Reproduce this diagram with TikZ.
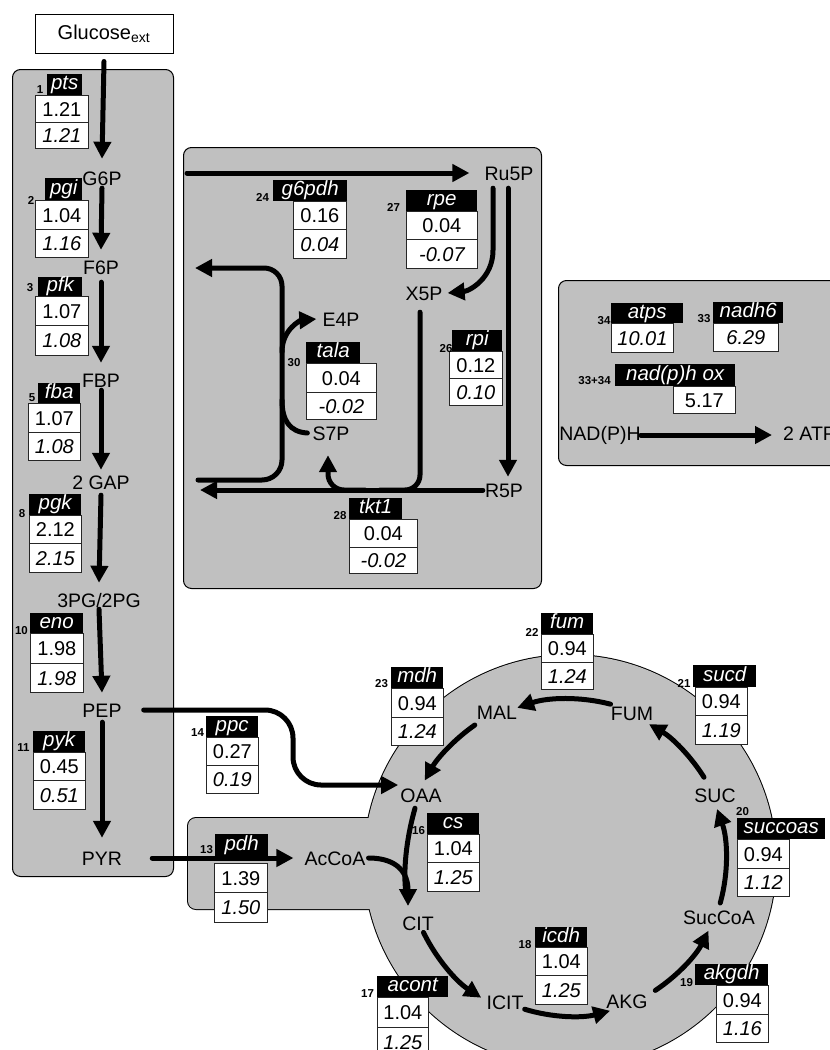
\documentclass[tikz,border=0pt]{standalone}
\usepackage{fontspec}
\setmainfont{Liberation Sans}
\usetikzlibrary{arrows.meta}
\definecolor{regiongray}{RGB}{192,192,192}
\tikzset{
  region/.style={draw=black, line width=1pt, fill=regiongray, rounded corners=8pt, anchor=north west, inner sep=0pt},
  met/.style={font=\fontsize{19.5}{22}\selectfont, inner sep=0pt, text height=14pt, text depth=0pt},
  enzlab/.style={fill=black, text=white, font=\fontsize{20.5}{22}\selectfont\itshape, inner sep=0pt, anchor=north west, text height=14.5pt, text depth=4pt},
  valbox/.style={draw=black!85, line width=0.8pt, fill=white, font=\fontsize{20}{22}\selectfont, inner sep=0pt, anchor=north west, text height=14.5pt, text depth=0pt},
  ivalbox/.style={valbox, font=\fontsize{20}{22}\selectfont\itshape},
  enznum/.style={font=\fontsize{11.5}{12}\selectfont\bfseries, inner sep=0pt, anchor=base},
  flux/.style={line width=5pt, line cap=round, -{Triangle[length=17pt,width=17pt]}},
  fline/.style={line width=5pt, line cap=round}
}
\newcommand\enzlabel[6]{\pgfmathsetmacro\enzW{#3-#2}\pgfmathsetmacro\enzH{#5-#4}%
  \node[enzlab, minimum width=\enzW pt, minimum height=\enzH pt] (#1-l) at (#2,#4) {#6};}
\newcommand\enzval[7]{\pgfmathsetmacro\enzW{#4-#3}\pgfmathsetmacro\enzH{#6-#5}%
  \node[#2, minimum width=\enzW pt, minimum height=\enzH pt] (#1) at (#3,#5) {#7};}
\newcommand\enznum[4]{\node[enznum] (#1-n) at (#2,#3) {#4};}
\newcommand\enzyme[9]{%
  \enzlabel{#1}{#2}{#3}{#4}{#5}{\enzname}%
  \enzval{#1-v1}{valbox}{#6}{#7}{#5}{#8}{\enzA}%
  \enzval{#1-v2}{ivalbox}{#6}{#7}{#8}{#9}{\enzB}}
\newcommand\enztexts[3]{\def\enzname{#1}\def\enzA{#2}\def\enzB{#3}}
\begin{document}
\begin{tikzpicture}[x=1pt,y=-1pt]
\useasboundingbox (0,0) rectangle (830,1050);
\clip (0,0) rectangle (830,1050);
\fill[white] (0,0) rectangle (830,1050);

% ---------- regions
\node[region, minimum width=161pt, minimum height=807pt] (glybox) at (12,69) {};
\node[region, minimum width=358pt, minimum height=441pt] (pppbox) at (183,147) {};
\node[region, minimum width=300pt, minimum height=185pt] (atpbox) at (558,280) {};
\coordinate (tca) at (570,861);
\draw[line width=2pt] (tca) circle[radius=206];
\draw[line width=2pt, rounded corners=8pt] (188,818) rectangle (450,909);
\fill[regiongray] (tca) circle[radius=206];
\fill[regiongray, rounded corners=8pt] (188,818) rectangle (450,909);

% ---------- metabolites
\node[draw, line width=1pt, fill=white, minimum width=138pt, minimum height=39pt, inner sep=0pt,
      font=\fontsize{20}{22}\selectfont] (glc) at (104,33.5) {Glucose\textsubscript{ext}};
\node[met] (g6p) at (102,178) {G6P};
\node[met] (f6p) at (101,267) {F6P};
\node[met] (fbp) at (101,380) {FBP};
\node[met] (gap) at (101,482) {2 GAP};
\node[met] (pg) at (99,600) {3PG/2PG};
\node[met] (pep) at (102,710) {PEP};
\node[met] (pyr) at (102,858) {PYR};
\node[met] (ru5p) at (509,173) {Ru5P};
\node[met] (x5p) at (424,293) {X5P};
\node[met] (e4p) at (341,319) {E4P};
\node[met] (s7p) at (331,433) {S7P};
\node[met] (r5p) at (504,490) {R5P};
\node[met] (accoa) at (335,858) {AcCoA};
\node[met] (oaa) at (421,795) {OAA};
\node[met] (mal) at (497,712) {MAL};
\node[met] (fum) at (632,713) {FUM};
\node[met] (suc) at (715,795) {SUC};
\node[met] (succoa) at (719,917) {SucCoA};
\node[met] (akg) at (627,1001) {AKG};
\node[met] (icit) at (505,1002) {ICIT};
\node[met] (cit) at (418,923) {CIT};
\node[met] (nadph) at (600,433) {NAD(P)H};
\node[met, anchor=west] (atp) at (783,433) {2 ATP};

% ---------- glycolysis
\draw[flux] ([yshift=-8pt]glc.south) -- ([yshift=12pt]g6p.north);
\draw[flux] ([yshift=-3pt]g6p.south) -- ([yshift=10pt]f6p.north);
\draw[flux] ([yshift=-8pt]f6p.south) -- ([yshift=10pt]fbp.north);
\draw[flux] ([yshift=-3pt]fbp.south) -- ([yshift=5pt]gap.north);
\draw[flux] ([yshift=-6pt]gap.south) -- ([yshift=10pt]pg.north);
\draw[flux] ([yshift=-2pt]pg.south) -- ([yshift=10pt]pep.north);
\draw[flux] ([yshift=-5pt]pep.south) -- ([yshift=13pt]pyr.north);

% ---------- pentose phosphate pathway
\coordinate (pppin) at (187,173);
\coordinate (f6pout) at (195,268);
\coordinate (gapin) at (198,480);
\coordinate (gapout) at (200,490);
\coordinate (talaj) at (282,400);
\coordinate (e4pj) at (282,352);
\draw[flux] (pppin) -- ([xshift=-15pt]ru5p.west);
\draw[flux] ([xshift=-16pt,yshift=-8pt]ru5p.south) -- ++(0,62)
   .. controls +(0,28) and +(22,-2) .. ([xshift=5pt]x5p.east);
\draw[flux] ([xshift=-1pt,yshift=-8pt]ru5p.south) -- ([xshift=4pt,yshift=6pt]r5p.north);
\draw[fline, rounded corners=15pt] ([xshift=-4pt,yshift=-12pt]x5p.south) |- (380,490);
\draw[flux] ([xshift=-2pt]r5p.west) -- (gapout);
\draw[flux, rounded corners=16pt] (365,490) -| ([xshift=-3pt,yshift=-15pt]s7p.south);
\draw[fline, rounded corners=20pt] (gapin) -| (talaj);
\draw[flux] ([xshift=-5pt]s7p.west) .. controls +(-18,-1) and +(0,20) .. (talaj)
   [rounded corners=18pt] -- (282,268) -- (f6pout);
\draw[flux] (e4pj) .. controls +(0,-24) and +(-14,1) .. ([xshift=-6pt]e4p.west);

% ---------- anaplerosis / pdh
\draw[flux, rounded corners=28pt] ([xshift=22pt]pep.east) -| (293,785) -- ([xshift=-2pt,yshift=10pt]oaa.west);
\draw[flux] ([xshift=30pt]pyr.east) -- ([xshift=-11pt]accoa.west);

% ---------- TCA cycle
\coordinate (citin) at (408,906);
\draw[fline] ([xshift=-6pt,yshift=-6pt]oaa.south) .. controls (406,840) and (403,872) .. (406,893);
\draw[flux] ([xshift=3pt]accoa.east) .. controls +(30,0) and +(0,-32) .. (citin);
\draw[flux] ([shift={(154:163)}]tca) arc[start angle=154, end angle=123, radius=163];
\draw[flux] ([shift={(107:155)}]tca) arc[start angle=107, end angle=75, radius=155];
\draw[flux] ([shift={(56.6:155)}]tca) arc[start angle=56.6, end angle=26.7, radius=155];
\draw[flux] ([shift={(15.6:156)}]tca) arc[start angle=15.6, end angle=-19.5, radius=156];
\draw[flux] ([shift={(328:158)}]tca) arc[start angle=328, end angle=300, radius=158];
\draw[flux] ([shift={(284.5:162)}]tca) arc[start angle=284.5, end angle=251, radius=162];
\draw[flux] ([shift={(235:166)}]tca) arc[start angle=235, end angle=209, radius=166];

% ---------- NAD(P)H oxidation
\draw[flux] ([yshift=-2pt]nadph.east) -- ([xshift=-11pt,yshift=-2pt]atp.west);

% ---------- enzymes
\enztexts{pts}{1.21}{1.21}\enzyme{pts}{47}{82}{74}{95}{35}{88}{122}{148}
\enznum{pts}{40}{93}{1}
\enztexts{pgi}{1.04}{1.16}\enzyme{pgi}{45}{82}{178}{200}{35}{88}{229}{257}
\enznum{pgi}{31}{204}{2}
\enztexts{pfk}{1.07}{1.08}\enzyme{pfk}{38}{82}{277}{296}{35}{88}{325}{355}
\enznum{pfk}{30}{291}{3}
\enztexts{fba}{1.07}{1.08}\enzyme{fba}{38}{80}{383}{403}{28}{80}{432}{460}
\enznum{fba}{32}{401}{5}
\enztexts{pgk}{2.12}{2.15}\enzyme{pgk}{29}{81}{494}{515}{29}{81}{543}{572}
\enznum{pgk}{22}{517}{8}
\enztexts{eno}{1.98}{1.98}\enzyme{eno}{30}{83}{613}{633}{30}{83}{663}{692}
\enznum{eno}{21.5}{634}{10}
\enztexts{pyk}{0.45}{0.51}\enzyme{pyk}{33}{85}{731}{752}{33}{85}{780}{809}
\enznum{pyk}{23.5}{751}{11}
\enztexts{ppc}{0.27}{0.19}\enzyme{ppc}{206}{258}{716}{737}{206}{258}{765}{793}
\enznum{ppc}{197.5}{736}{14}
\enztexts{pdh}{1.39}{1.50}\enzlabel{pdh}{215}{268}{834}{856}{\enzname}
\enzval{pdh-v1}{valbox}{214}{267}{863}{892}{\enzA}
\enzval{pdh-v2}{ivalbox}{214}{267}{892}{922}{\enzB}
\enznum{pdh}{206.5}{853}{13}
\enztexts{cs}{1.04}{1.25}\enzyme{cs}{427}{479}{813}{834}{427}{479}{862}{891}
\enznum{cs}{418.5}{834}{16}
\enztexts{acont}{1.04}{1.25}\enzyme{acont}{377}{448}{976}{997}{377}{428}{1027}{1057}
\enznum{acont}{367.5}{997}{17}
\enztexts{icdh}{1.04}{1.25}\enzyme{icdh}{535}{587}{927}{947}{535}{587}{975}{1004}
\enznum{icdh}{525}{948}{18}
\enztexts{akgdh}{0.94}{1.16}\enzyme{akgdh}{695}{768}{964}{985}{716}{768}{1014}{1042}
\enznum{akgdh}{686.5}{986}{19}
\enztexts{succoas}{0.94}{1.12}\enzyme{succoas}{737}{825}{818}{839}{737}{789}{868}{896}
\enznum{succoas}{742.5}{815}{20}
\enztexts{sucd}{0.94}{1.19}\enzyme{sucd}{693}{756}{665}{687}{695}{747}{715}{744}
\enznum{sucd}{684}{687}{21}
\enztexts{fum}{0.94}{1.24}\enzyme{fum}{541}{593}{613}{634}{541}{593}{662}{689}
\enznum{fum}{532}{636}{22}
\enztexts{mdh}{0.94}{1.24}\enzyme{mdh}{391}{443}{667}{688}{391}{443}{717}{745}
\enznum{mdh}{381.5}{687}{23}
\enztexts{g6pdh}{0.16}{0.04}\enzyme{g6pdh}{273}{347}{180}{201}{293}{346}{229}{258}
\enznum{g6pdh}{262.5}{201}{24}
\enztexts{rpe}{0.04}{-0.07}\enzyme{rpe}{406}{477}{190}{211}{406}{477}{239}{268}
\enznum{rpe}{393.5}{211}{27}
\enztexts{rpi}{0.12}{0.10}\enzyme{rpi}{452}{502}{330}{351}{449}{502}{378}{405}
\enznum{rpi}{446}{352}{26}
\enztexts{tala}{0.04}{-0.02}\enzyme{tala}{306}{360}{342}{363}{306}{376}{392}{419}
\enznum{tala}{294}{366}{30}
\enztexts{tkt1}{0.04}{-0.02}\enzyme{tkt1}{349}{402}{498}{519}{349}{417}{547}{573}
\enznum{tkt1}{340}{519}{28}
\enzlabel{atps}{611}{683}{303}{323}{atps}
\enzval{atps-v1}{ivalbox}{611}{673}{323}{352}{10.01}
\enznum{atps}{604}{324}{34}
\enzlabel{nadh6}{713}{783}{302}{323}{nadh6}
\enzval{nadh6-v1}{ivalbox}{713}{778}{323}{351}{6.29}
\enznum{nadh6}{704}{322}{33}
\enzlabel{nadpox}{615}{735}{364}{386}{nad(p)h ox}
\enzval{nadpox-v1}{valbox}{673}{735}{386}{413}{5.17}
\enznum{nadpox}{594.5}{384}{33+34}
\end{tikzpicture}
\end{document}
